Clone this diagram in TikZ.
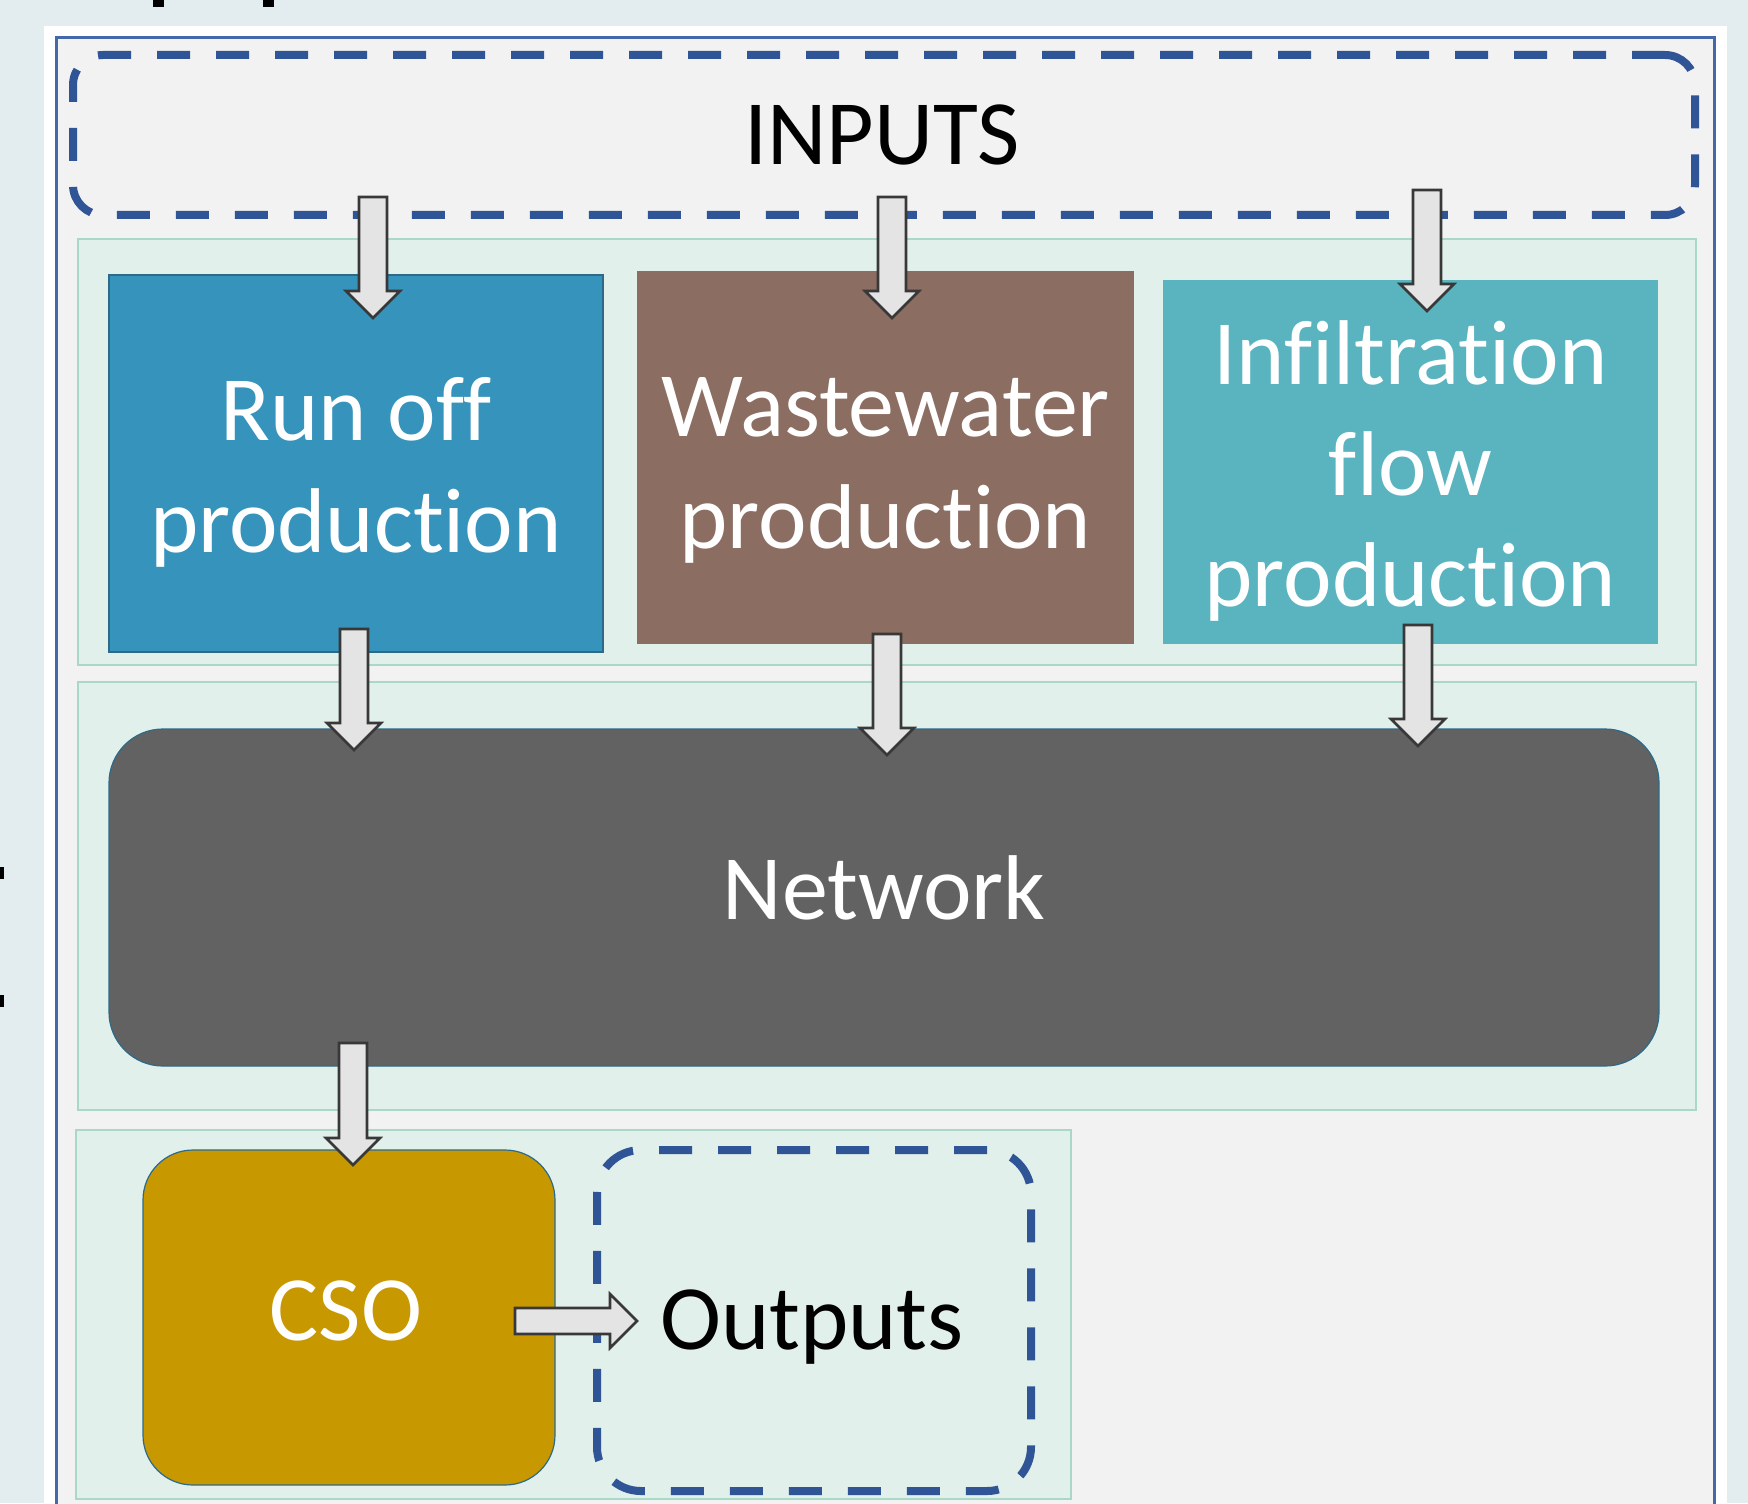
\documentclass[tikz,border=0pt]{standalone}
\usepackage{fontspec}
\setmainfont{Carlito}[Ligatures={NoCommon,NoRequired,NoContextual}]
\usetikzlibrary{fit,calc}
\definecolor{outerbg}{HTML}{E3ECEE}
\definecolor{framebl}{HTML}{4468A8}
\definecolor{innerbg}{HTML}{F2F2F2}
\definecolor{contfill}{HTML}{E2F0EB}
\definecolor{contline}{HTML}{A9D9C6}
\definecolor{dashbl}{HTML}{2F5597}
\definecolor{runoffc}{HTML}{3593BC}
\definecolor{wastec}{HTML}{8B6D62}
\definecolor{infilc}{HTML}{5AB4BF}
\definecolor{netc}{HTML}{626262}
\definecolor{csoc}{HTML}{C89800}
\definecolor{edgec}{HTML}{2C6A88}
\definecolor{arrfill}{HTML}{E4E4E4}
\definecolor{arrline}{HTML}{383838}
\newcommand\bigfont{\fontsize{46}{55.7}\selectfont}
\newcommand\downarr[2]{%
  \draw[blockarr] ($(#1)+(-14,0)$) -- ($(#1)+(14,0)$) -- ($(#2)+(14,-27)$) -- ($(#2)+(27,-27)$) -- (#2) -- ($(#2)+(-27,-27)$) -- ($(#2)+(-14,-27)$) -- cycle;}
\newcommand\rightarr[2]{%
  \draw[blockarr] ($(#1)+(0,-13)$) -- ($(#2)+(-27,-13)$) -- ($(#2)+(-27,-27)$) -- (#2) -- ($(#2)+(-27,27)$) -- ($(#2)+(-27,13)$) -- ($(#1)+(0,13)$) -- cycle;}
\tikzset{
  container/.style={fill=contfill, draw=contline, line width=1pt},
  solidbox/.style={inner sep=0pt, text=white, font=\bigfont, align=center, line width=0.6pt},
  dashbox/.style={inner sep=0pt, draw=dashbl, line width=4pt, dash pattern=on 16.5pt off 13pt, font=\bigfont, text=black, align=center},
  blockarr/.style={fill=arrfill, draw=arrline, line width=1.3pt, line join=miter},
  glyph/.style={fill=black, draw=none}
}
\begin{document}
\begin{tikzpicture}[x=0.5pt,y=-0.5pt]
\clip (0,0) rectangle (1748,1503);
\fill[outerbg] (0,0) rectangle (1748,1503);
% partial glyphs at the edges
\fill[glyph] (153,0) rectangle (164,7);
\fill[glyph] (263,0) rectangle (274,7);
\fill[glyph] (0,867) rectangle (4,879);
\fill[glyph] (0,995) rectangle (4,1007);
% frame
\fill[white] (44,26) rectangle (1727,1520);
\fill[innerbg] (56,38) rectangle (1714,1520);
\draw[framebl, line width=1.5pt] (56,38) rectangle (1714,1520);
% containers
\draw[container] (78,239) rectangle (1696,665);
\draw[container] (78,682) rectangle (1696,1110);
\draw[container] (76,1130) rectangle (1071,1499);
% nodes
\node[dashbox, rounded corners=15pt, fit={(73,55) (1695,215)}] (inputs) {};
\node[font=\bigfont] (inputslbl) at (882,135) {INPUTS};
\node[solidbox, fill=runoffc, draw=edgec, fit={(109,275) (603,652)}] (runoff) {};
\node[font=\bigfont, text=white, align=center] at ($(runoff.center)+(0,9)$) {Run off\\production};
\node[solidbox, fill=wastec, draw=wastec, fit={(638,272) (1133,643)}] (waste) {};
\node[font=\bigfont, text=white, align=center] at ($(waste.center)+(0,13)$) {Wastewater\\production};
\node[solidbox, fill=infilc, draw=infilc, fit={(1164,281) (1657,643)}] (infil) {};
\node[font=\bigfont, text=white, align=center] at ($(infil.center)+(0,9)$) {Infiltration\\flow\\production};
\node[solidbox, fill=netc, draw=edgec, rounded corners=27pt, fit={(109,729) (1659,1066)}] (network) {};
\node[font=\bigfont, text=white] at ($(network.center)+(0,-10)$) {Network};
\node[solidbox, fill=csoc, draw=edgec, rounded corners=25pt, fit={(143,1150) (555,1485)}] (cso) {};
\node[font=\bigfont, text=white] at ($(cso.center)+(-3,-7)$) {CSO};
\node[dashbox, fill=contfill, rounded corners=22pt, fit={(597,1150) (1031,1491)}] (outputs) {};
\node[font=\bigfont, text=black] at ($(outputs.center)+(-2,7)$) {Outputs};
% arrow coordinates
\coordinate (a1s) at (373,197);  \coordinate (a1e) at (373,318);
\coordinate (a2s) at (892,197);  \coordinate (a2e) at (892,318);
\coordinate (a3s) at (1427,190); \coordinate (a3e) at (1427,311);
\coordinate (a4s) at (354,629);  \coordinate (a4e) at (354,750);
\coordinate (a5s) at (887,634);  \coordinate (a5e) at (887,755);
\coordinate (a6s) at (1418,625); \coordinate (a6e) at (1418,746);
\coordinate (a7s) at (353,1043); \coordinate (a7e) at (353,1165);
\coordinate (a8s) at (515,1321); \coordinate (a8e) at (637,1321);
\downarr{a1s}{a1e}
\downarr{a2s}{a2e}
\downarr{a3s}{a3e}
\downarr{a4s}{a4e}
\downarr{a5s}{a5e}
\downarr{a6s}{a6e}
\downarr{a7s}{a7e}
\rightarr{a8s}{a8e}
\end{tikzpicture}
\end{document}
